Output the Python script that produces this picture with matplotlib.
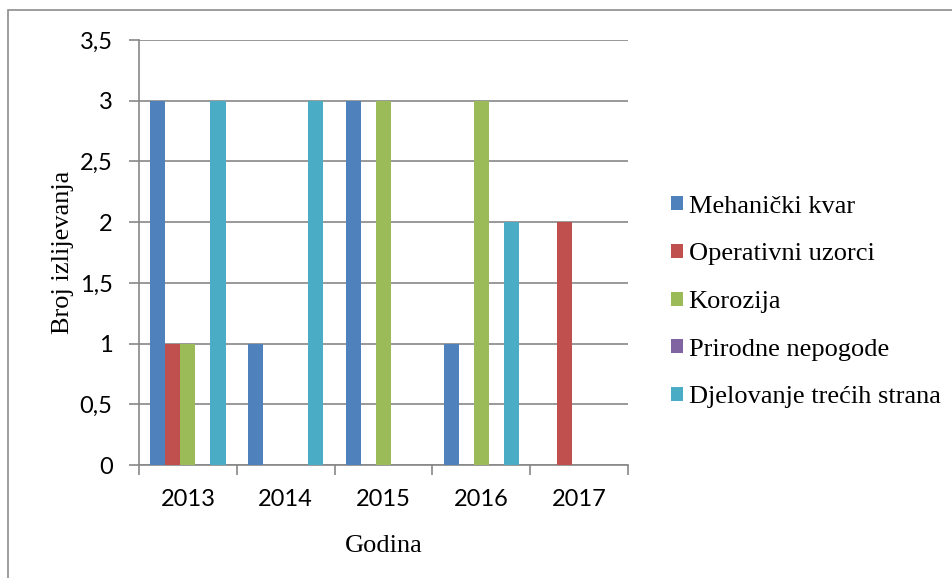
import matplotlib.pyplot as plt
import numpy as np
from matplotlib.patches import Rectangle

# Data
years = ['2013', '2014', '2015', '2016', '2017']
series = ['Mehanički kvar', 'Operativni uzorci', 'Korozija',
          'Prirodne nepogode', 'Djelovanje trećih strana']
mehanicki = [3, 1, 3, 1, 0]
operativni = [1, 0, 0, 0, 2]
korozija = [1, 0, 3, 3, 0]
prirodne = [0, 0, 0, 0, 0]
djelovanje = [3, 3, 0, 2, 0]
values = [mehanicki, operativni, korozija, prirodne, djelovanje]
colors = ['#4F81BD', '#C0504D', '#9BBB59', '#8064A2', '#4BACC6']

fig = plt.figure(figsize=(9.53, 5.78), dpi=100)
ax = fig.add_axes([139/953, 1 - 465/578, (628 - 139)/953, (465 - 40)/578])

# outer chart border (only left and top visible in the reference)
fig.patches.append(Rectangle((8/953, -0.1), 1.2, 1 - 10/578 + 0.1,
                             transform=fig.transFigure, fill=False,
                             edgecolor='#8c8c8c', linewidth=1.2))

x = np.arange(len(years))
w = 1 / 6.5  # Excel gap width 150%
for i, (vals, name) in enumerate(zip(values, series)):
    ax.bar(x + (i - 2) * w, vals, width=w, color=colors[i], label=name, zorder=3)

ax.set_xlim(-0.5, 4.5)
ax.set_ylim(0, 3.5)
yt = [0, 0.5, 1, 1.5, 2, 2.5, 3, 3.5]
ax.set_yticks(yt)
ax.set_yticklabels([('%g' % v).replace('.', ',') for v in yt],
                   fontfamily='Lato', fontsize=17)
ax.yaxis.grid(True, color='#878787', linewidth=1.2, zorder=0)
ax.set_xticks(x)
ax.set_xticklabels(years, fontfamily='Lato', fontsize=17)
ax.set_xticks(np.arange(-0.5, 5.0, 1), minor=True)
ax.tick_params(axis='x', which='major', length=0, pad=17)
ax.tick_params(axis='x', which='minor', length=7, color='#878787', width=1.2)
ax.tick_params(axis='y', length=7, color='#878787', width=1.2, pad=12)

for s in ['top', 'right']:
    ax.spines[s].set_visible(False)
for s in ['left', 'bottom']:
    ax.spines[s].set_color('#878787')
    ax.spines[s].set_linewidth(1.2)

ax.set_ylabel('Broj izlijevanja', fontfamily='Liberation Serif', fontsize=19, labelpad=4)
ax.set_xlabel('Godina', fontfamily='Liberation Serif', fontsize=19, labelpad=18)

ax.legend(loc='center left', bbox_to_anchor=(647/953, 1 - 302/578),
          bbox_transform=fig.transFigure, frameon=False,
          prop={'family': 'Liberation Serif', 'size': 19},
          handlelength=0.45, handleheight=0.45, handletextpad=0.23,
          labelspacing=0.97)

fig.savefig('out.png', dpi=100)
